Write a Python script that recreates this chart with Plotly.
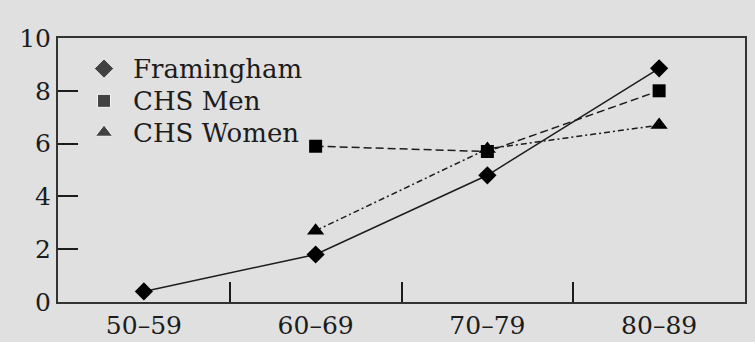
import plotly.graph_objects as go

categories = ["50–59", "60–69", "70–79", "80–89"]
framingham = [0.4, 1.8, 4.8, 8.85]
chs_men = [None, 5.9, 5.7, 8.0]
chs_women = [None, 2.7, 5.8, 6.7]
series_names = ["Framingham", "CHS Men", "CHS Women"]
y_ticks = [0, 2, 4, 6, 8, 10]

BG = "#e0e0e0"
INK = "#1c1c1c"
FONT = "DejaVu Serif"

fig = go.Figure()

styles = [
    (framingham, "diamond", 14, "solid"),
    (chs_men, "square", 13, "8px,4px"),
    (chs_women, "triangle-up", 15, "6px,3px,2px,3px"),
]
for (vals, sym, sz, dash), name in zip(styles, series_names):
    fig.add_trace(go.Scatter(
        x=categories, y=vals, name=name, mode="lines+markers",
        line=dict(color=INK, width=1.5, dash=dash),
        marker=dict(symbol=sym, size=sz, color="black"),
        connectgaps=False, showlegend=False,
    ))

# custom legend: markers on an invisible overlay axis + text annotations
leg_x = 0.067
leg_y = [0.884, 0.762, 0.642]
fig.add_trace(go.Scatter(
    x=[leg_x] * 3, y=leg_y, mode="markers", xaxis="x2", yaxis="y2",
    marker=dict(symbol=["diamond", "square", "triangle-up"], size=[15, 13, 15], color="black"),
    showlegend=False, hoverinfo="skip",
))
for yy, name in zip(leg_y, series_names):
    fig.add_annotation(
        xref="paper", yref="paper", x=0.106, y=yy, text=name,
        xanchor="left", yanchor="middle", showarrow=False,
        font=dict(family=FONT, size=26, color=INK),
    )

W, H = 755, 342
L, R, T, B = 58, 10, 38, 40

fig.update_layout(
    width=W, height=H,
    margin=dict(l=L, r=R, t=T, b=B, autoexpand=False),
    paper_bgcolor=BG, plot_bgcolor=BG,
    font=dict(family=FONT, size=25, color=INK),
    xaxis=dict(
        type="category", range=[-0.5, 3.5], tickson="boundaries", automargin=False,
        ticks="inside", ticklen=20, tickwidth=1.5, tickcolor=INK,
        showline=True, linewidth=2, linecolor="#333333", mirror=True,
        showgrid=False, zeroline=False, fixedrange=True,
        tickfont=dict(family=FONT, size=25, color=INK),
    ),
    yaxis=dict(
        range=[0, 10], tickvals=y_ticks, ticktext=[str(v) for v in y_ticks], automargin=False,
        ticks="inside", ticklen=20, tickwidth=1.5, tickcolor=INK,
        showline=True, linewidth=2, linecolor="#333333", mirror=True,
        showgrid=False, zeroline=False, fixedrange=True,
        tickfont=dict(family=FONT, size=25, color=INK),
    ),
    xaxis2=dict(range=[0, 1], overlaying="x", visible=False, fixedrange=True),
    yaxis2=dict(range=[0, 1], overlaying="y", visible=False, fixedrange=True),
    showlegend=False,
)

fig.write_html("out.html")
